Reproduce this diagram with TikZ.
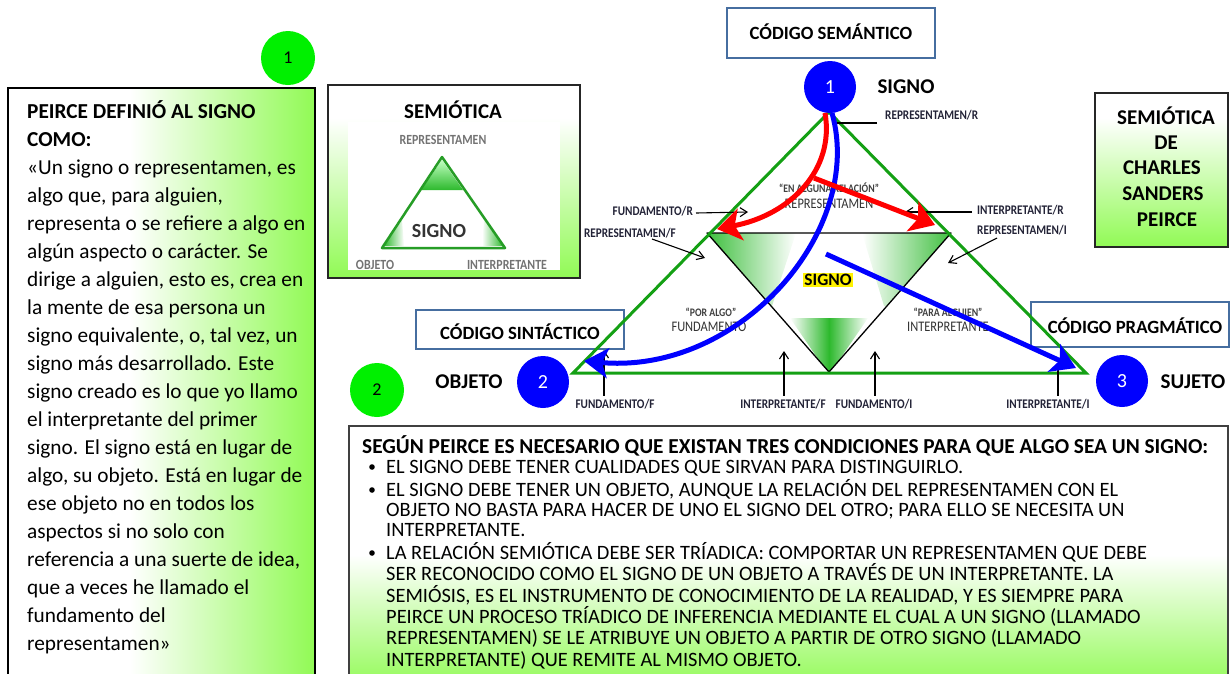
\documentclass[tikz,border=0pt]{standalone}
\usepackage{fontspec}
\setmainfont{Carlito}
\newfontfamily\cond[FakeStretch=0.85]{Carlito}
\usetikzlibrary{arrows.meta}
\definecolor{lgreen}{RGB}{145,250,85}
\definecolor{tgreen}{RGB}{20,160,20}
\definecolor{sgreen}{RGB}{45,185,45}
\definecolor{cbord}{RGB}{70,110,160}
\definecolor{pblue}{RGB}{0,0,255}
\definecolor{lbl}{RGB}{35,35,55}
\definecolor{neon}{RGB}{0,240,0}
\begin{document}
\begin{tikzpicture}[x=1pt,y=-1pt,
  every node/.style={inner sep=0pt},
  lab/.style={font=\cond\bfseries\fontsize{13.2}{14}\selectfont, text=lbl},
  inlab/.style={font=\cond\fontsize{14.6}{15}\selectfont, text=black!80},
  qlab/.style={font=\cond\bfseries\fontsize{11.5}{12}\selectfont, text=black!75},
  big/.style={font=\bfseries\fontsize{21}{24}\selectfont},
  codetxt/.style={font=\bfseries\fontsize{18.7}{19}\selectfont},
  minilab/.style={font=\cond\bfseries\fontsize{14}{14}\selectfont, text=black!55},
  bodytxt/.style={font=\fontsize{21.3}{28}\selectfont, anchor=base west},
  bodybold/.style={font=\bfseries\fontsize{21.3}{28}\selectfont, anchor=base west},
  condtxt/.style={font=\fontsize{20.4}{21}\selectfont, anchor=base west},
  condbold/.style={font=\bfseries\fontsize{21.3}{22}\selectfont, anchor=base west},
  gcirc/.style={circle, fill=neon, minimum size=54pt, font=\fontsize{18}{18}\selectfont},
  bcirc/.style={circle, fill=pblue, minimum size=52pt, text=white, font=\fontsize{20}{20}\selectfont},
  codebox/.style={draw=cbord, line width=1.6pt},
  thinarrow/.style={-{Straight Barb[length=7pt,width=9pt]}, line width=1.1pt},
  redarrow/.style={draw=red, line width=5pt, -{Stealth[length=24pt,width=32pt,inset=6pt]}},
  bluearrow/.style={draw=pblue, line width=5pt, -{Stealth[length=24pt,width=30pt,inset=6pt]}}
]
\useasboundingbox (0,0) rectangle (1232,673);
\begin{scope}
\clip (0,0) rectangle (1232,673);

% ---------- left box ----------
\fill[white] (8,88) rectangle (315,690);
\shade[left color=white, right color=lgreen] (130,88) rectangle (315,690);
\draw[black, line width=1.2pt] (8,690) -- (8,88) -- (315,88) -- (315,690);
\node[gcirc] (g1) at (288,58) {1};
\foreach \t [count=\i] in {{PEIRCE DEFINIÓ AL SIGNO},{COMO:}}
  \node[bodybold] (lt\i) at (27,90+28*\i) {\t};
\foreach \t [count=\i] in {{«Un signo o representamen, es},{algo que, para alguien,},{representa o se refiere a algo en},{algún aspecto o carácter. Se},{dirige a alguien, esto es, crea en},{la mente de esa persona un},{signo equivalente, o, tal vez, un},{signo más desarrollado. Este},{signo creado es lo que yo llamo},{el interpretante del primer},{signo. El signo está en lugar de},{algo, su objeto. Está en lugar de},{ese objeto no en todos los},{aspectos si no solo con},{referencia a una suerte de idea,},{que a veces he llamado el},{fundamento del},{representamen»}}
  \node[bodytxt] (lb\i) at (27,146+28*\i) {\t};

% ---------- SEMIOTICA box ----------
\fill[white] (328,85) rectangle (580,278);
\shade[top color=white, bottom color=lgreen] (328,118) rectangle (580,278);
\draw[black!85, line width=1.2pt] (328,85) rectangle (580,278);
\node[big] (semt) at (453,110) {SEMIÓTICA};
\fill[white] (348,122) rectangle (560,270);
\shade[top color=green!25, bottom color=sgreen] (442,160) -- (421,190) -- (463,190) -- cycle;
\shade[left color=sgreen, right color=white] (384,246) -- (402,220) -- (404,246) -- cycle;
\shade[left color=white, right color=sgreen] (482,246) -- (484,220) -- (503,246) -- cycle;
\draw[sgreen!85!black, line width=2.5pt, line join=round] (442,157) -- (382,248) -- (505,248) -- cycle;
\node[minilab] (mr) at (443,140) {REPRESENTAMEN};
\node[font=\bfseries\fontsize{20}{20}\selectfont, text=black!80] (ms) at (439,231) {SIGNO};
\node[minilab] (mo) at (375,265) {OBJETO};
\node[minilab] (mi) at (507,265) {INTERPRETANTE};

% ---------- right title box ----------
\fill[white] (1095,93) rectangle (1228,247);
\shade[top color=white, bottom color=lgreen] (1095,118) rectangle (1228,247);
\draw[black!85, line width=1.2pt] (1095,93) rectangle (1228,247);
\node[big] (r1) at (1166,116) {SEMIÓTICA};
\node[big] (r2) at (1166,143) {DE};
\node[big] (r3) at (1162,168) {CHARLES};
\node[big] (r4) at (1163,194) {SANDERS};
\node[big] (r5) at (1167,220) {PEIRCE};

% ---------- code boxes ----------
\draw[codebox] (727,8) rectangle (935,58);
\node[codetxt] (csem) at (831,32) {CÓDIGO SEMÁNTICO};
\draw[codebox] (416,310) rectangle (624,349);
\node[codetxt, anchor=base] (csin) at (520,339) {CÓDIGO SINTÁCTICO};
\draw[codebox] (1031,302) rectangle (1229,347);
\node[codetxt] (cpra) at (1135,326) {CÓDIGO PRAGMÁTICO};

% ---------- bottom box ----------
\fill[white] (349,426) rectangle (1228,690);
\shade[top color=white, bottom color=lgreen] (349,555) rectangle (1228,690);
\draw[black!75, line width=1.5pt] (349,690) -- (349,426) -- (1228,426) -- (1228,690);
\node[condbold] (bt) at (362,453) {SEGÚN PEIRCE ES NECESARIO QUE EXISTAN TRES CONDICIONES PARA QUE ALGO SEA UN SIGNO:};
\foreach \y in {467,490,553} \fill (372,\y) circle (2.8);
\foreach \t/\y [count=\i] in {{EL SIGNO DEBE TENER CUALIDADES QUE SIRVAN PARA DISTINGUIRLO.}/473,
 {EL SIGNO DEBE TENER UN OBJETO, AUNQUE LA RELACIÓN DEL REPRESENTAMEN CON EL}/496,
 {OBJETO NO BASTA PARA HACER DE UNO EL SIGNO DEL OTRO; PARA ELLO SE NECESITA UN}/516,
 {INTERPRETANTE.}/536,
 {LA RELACIÓN SEMIÓTICA DEBE SER TRÍADICA: COMPORTAR UN REPRESENTAMEN QUE DEBE}/559,
 {SER RECONOCIDO COMO EL SIGNO DE UN OBJETO A TRAVÉS DE UN INTERPRETANTE. LA}/580,
 {SEMIÓSIS, ES EL INSTRUMENTO DE CONOCIMIENTO DE LA REALIDAD, Y ES SIEMPRE PARA}/602,
 {PEIRCE UN PROCESO TRÍADICO DE INFERENCIA MEDIANTE EL CUAL A UN SIGNO (LLAMADO}/623,
 {REPRESENTAMEN) SE LE ATRIBUYE UN OBJETO A PARTIR DE OTRO SIGNO (LLAMADO}/644,
 {INTERPRETANTE) QUE REMITE AL MISMO OBJETO.}/666}
  \node[condtxt] (bl\i) at (386,\y) {\t};

\node[gcirc] (g2) at (377,390) {2};

% ---------- main triangle ----------
\begin{scope}
\clip (707,233) -- (951,233) -- (829,372) -- cycle;
\shade[left color=sgreen, right color=white] (700,233) -- (796,233) -- (772,306) -- (700,306) -- cycle;
\shade[left color=white, right color=sgreen] (862,233) -- (960,233) -- (960,306) -- (884,306) -- cycle;
\shade[left color=white, right color=white, middle color=sgreen] (790,318) -- (868,318) -- (829,375) -- cycle;
\end{scope}
\draw[black, line width=1.3pt, line join=round] (707,233) -- (951,233) -- (829,372) -- cycle;
\draw[tgreen, line width=3pt, line join=miter] (829,112) -- (1086,373) -- (573,373) -- cycle;

\node[qlab] (q1) at (829,188) {“EN ALGUNA RELACIÓN”};
\node[inlab] (i1) at (829,204) {REPRESENTAMEN};
\node[qlab] (q2) at (711,312) {“POR ALGO”};
\node[inlab] (i2) at (709,327) {FUNDAMENTO};
\node[qlab] (q3) at (948,312) {“PARA ALGUIEN”};
\node[inlab] (i3) at (948,327) {INTERPRETANTE};

\node[font=\bfseries\fontsize{17.4}{18}\selectfont, fill=yellow, inner sep=1.2pt] (sig) at (828,280) {SIGNO};

% outside labels and their arrows
\node[lab, anchor=west] (lRR) at (885,115) {REPRESENTAMEN/R};
\coordinate (cRR) at (833,123);
\draw[line width=1.1pt] (lRR.west |- 0,123) ++(-8,0) -- (cRR);

\node[lab, anchor=east] (lFR) at (693,211) {FUNDAMENTO/R};
\coordinate (cFR) at (748,212);
\draw[thinarrow] (lFR.east) ++(3,2) -- (cFR);

\node[lab, anchor=east] (lRF) at (676,233) {REPRESENTAMEN/F};
\coordinate (sRF) at (652,239);
\coordinate (cRF) at (705,258);
\draw[thinarrow] (sRF) -- (cRF);

\node[lab, anchor=west] (lIR) at (977,210) {INTERPRETANTE/R};
\coordinate (cIR) at (905,212);
\draw[thinarrow] (lIR.west) ++(-5,2) -- (cIR);

\node[lab, anchor=west] (lRI) at (977,230) {REPRESENTAMEN/I};
\coordinate (sRI) at (997,238);
\coordinate (cRI) at (948,263);
\draw[thinarrow] (sRI) -- (cRI);

\node[lab] (lFF) at (615,404) {FUNDAMENTO/F};
\coordinate (cFF) at (604,350);
\draw[thinarrow] (lFF.north -| cFF) ++(0,-3) -- (cFF);

\node[lab] (lIF) at (783,404) {INTERPRETANTE/F};
\coordinate (cIF) at (784,351);
\draw[thinarrow] (lIF.north -| cIF) ++(0,-3) -- (cIF);

\node[lab] (lFI) at (874,404) {FUNDAMENTO/I};
\coordinate (cFI) at (875,351);
\draw[thinarrow] (lFI.north -| cFI) ++(0,-3) -- (cFI);

\node[lab] (lII) at (1048,404) {INTERPRETANTE/I};
\coordinate (cII) at (1058,366);
\draw[line width=1.1pt] (lII.north -| cII) ++(0,-3) -- (cII);

% circles and vertex labels
\node[bcirc] (b1) at (830,87) {1};
\node[big] (tsig) at (906,87) {SIGNO};
\node[bcirc] (b2) at (543,382) {2};
\node[big] (tobj) at (469,382) {OBJETO};
\node[bcirc] (b3) at (1122,381) {3};
\node[big] (tsuj) at (1193,382) {SUJETO};

% red and blue arrows
\coordinate (apR) at (825,113);
\coordinate (apB) at (832,113);
\coordinate (redL) at (717,229);
\coordinate (redBr) at (814,178);
\coordinate (redR) at (935,225);
\coordinate (bluL) at (584,361);
\coordinate (bluS) at (826,254);
\coordinate (bluR) at (1076,368);
\draw[bluearrow] (apB) .. controls (865,230) and (740,375) .. (bluL);
\draw[bluearrow] (bluS) -- (bluR);
\draw[redarrow] (apR) .. controls (835,170) and (790,215) .. (redL);
\draw[redarrow] (redBr) -- (redR);
\end{scope}
\end{tikzpicture}
\end{document}
